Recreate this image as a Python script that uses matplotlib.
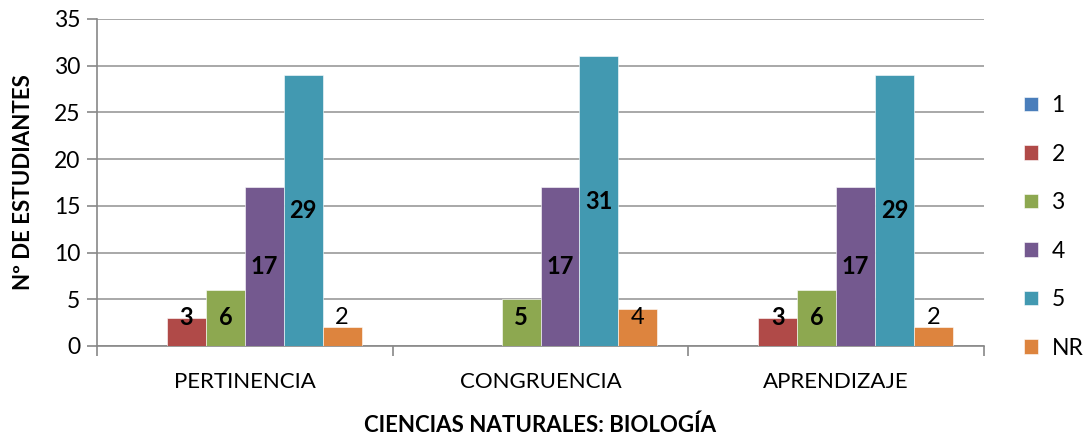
import numpy as np
import matplotlib.pyplot as plt

categories = ['PERTINENCIA', 'CONGRUENCIA', 'APRENDIZAJE']
series = ['1', '2', '3', '4', '5', 'NR']
vals_1 = [0, 0, 0]
vals_2 = [3, 0, 3]
vals_3 = [6, 5, 6]
vals_4 = [17, 17, 17]
vals_5 = [29, 31, 29]
vals_nr = [2, 4, 2]
colors = ['#4A7EBB', '#B04A48', '#8DA850', '#74598F', '#4299B1', '#DD843E']

plt.rcParams['font.family'] = ['Lato', 'DejaVu Sans']

fig = plt.figure(figsize=(10.83, 4.34), dpi=100)
ax = fig.add_axes([0.0896, 0.2028, 0.8190, 0.7535])

data = [vals_1, vals_2, vals_3, vals_4, vals_5, vals_nr]
x = np.arange(len(categories))
w = 1 / 7.6
for i, (name, vals) in enumerate(zip(series, data)):
    pos = x + (i - 2.5) * w
    ax.bar(pos, vals, w, color=colors[i], label=name, zorder=3,
           edgecolor='white', linewidth=0.4)
    if i == 0:
        continue
    for p, v in zip(pos, vals):
        if v == 0:
            continue
        ypos = max(v / 2, 3.1)
        ax.text(p, ypos, str(v), ha='center', va='center', fontsize=17,
                fontweight='normal' if name == 'NR' else 'bold', zorder=4)

ax.set_xlim(-0.5, 2.5)
ax.set_ylim(0, 35)
ax.set_yticks(range(0, 36, 5))
ax.set_xticks(x)
ax.set_xticklabels(categories)
ax.set_xticks([-0.5, 0.5, 1.5, 2.5], minor=True)
ax.tick_params(axis='x', which='major', length=0, labelsize=16, pad=19)
ax.tick_params(axis='x', which='minor', length=7, width=1.2, color='#888888')
ax.tick_params(axis='y', length=7, width=1.2, color='#888888', labelsize=16.5, pad=5)
ax.grid(axis='y', color='#999999', linewidth=1.2, zorder=0)
for s in ['top', 'right']:
    ax.spines[s].set_visible(False)
for s in ['left', 'bottom']:
    ax.spines[s].set_color('#888888')
    ax.spines[s].set_linewidth(1.2)

ax.set_xlabel('CIENCIAS NATURALES: BIOLOGÍA', fontsize=16, fontweight='bold', labelpad=16)
ax.set_ylabel('Nº DE ESTUDIANTES', fontsize=16, fontweight='bold', labelpad=14)

ax.legend(loc='center left', bbox_to_anchor=(0.937, 0.477),
          bbox_transform=fig.transFigure, frameon=False, borderaxespad=0,
          fontsize=16.5, handlelength=0.6, handleheight=0.6, labelspacing=1.2,
          handletextpad=0.6)

fig.savefig('out.png', dpi=100)
